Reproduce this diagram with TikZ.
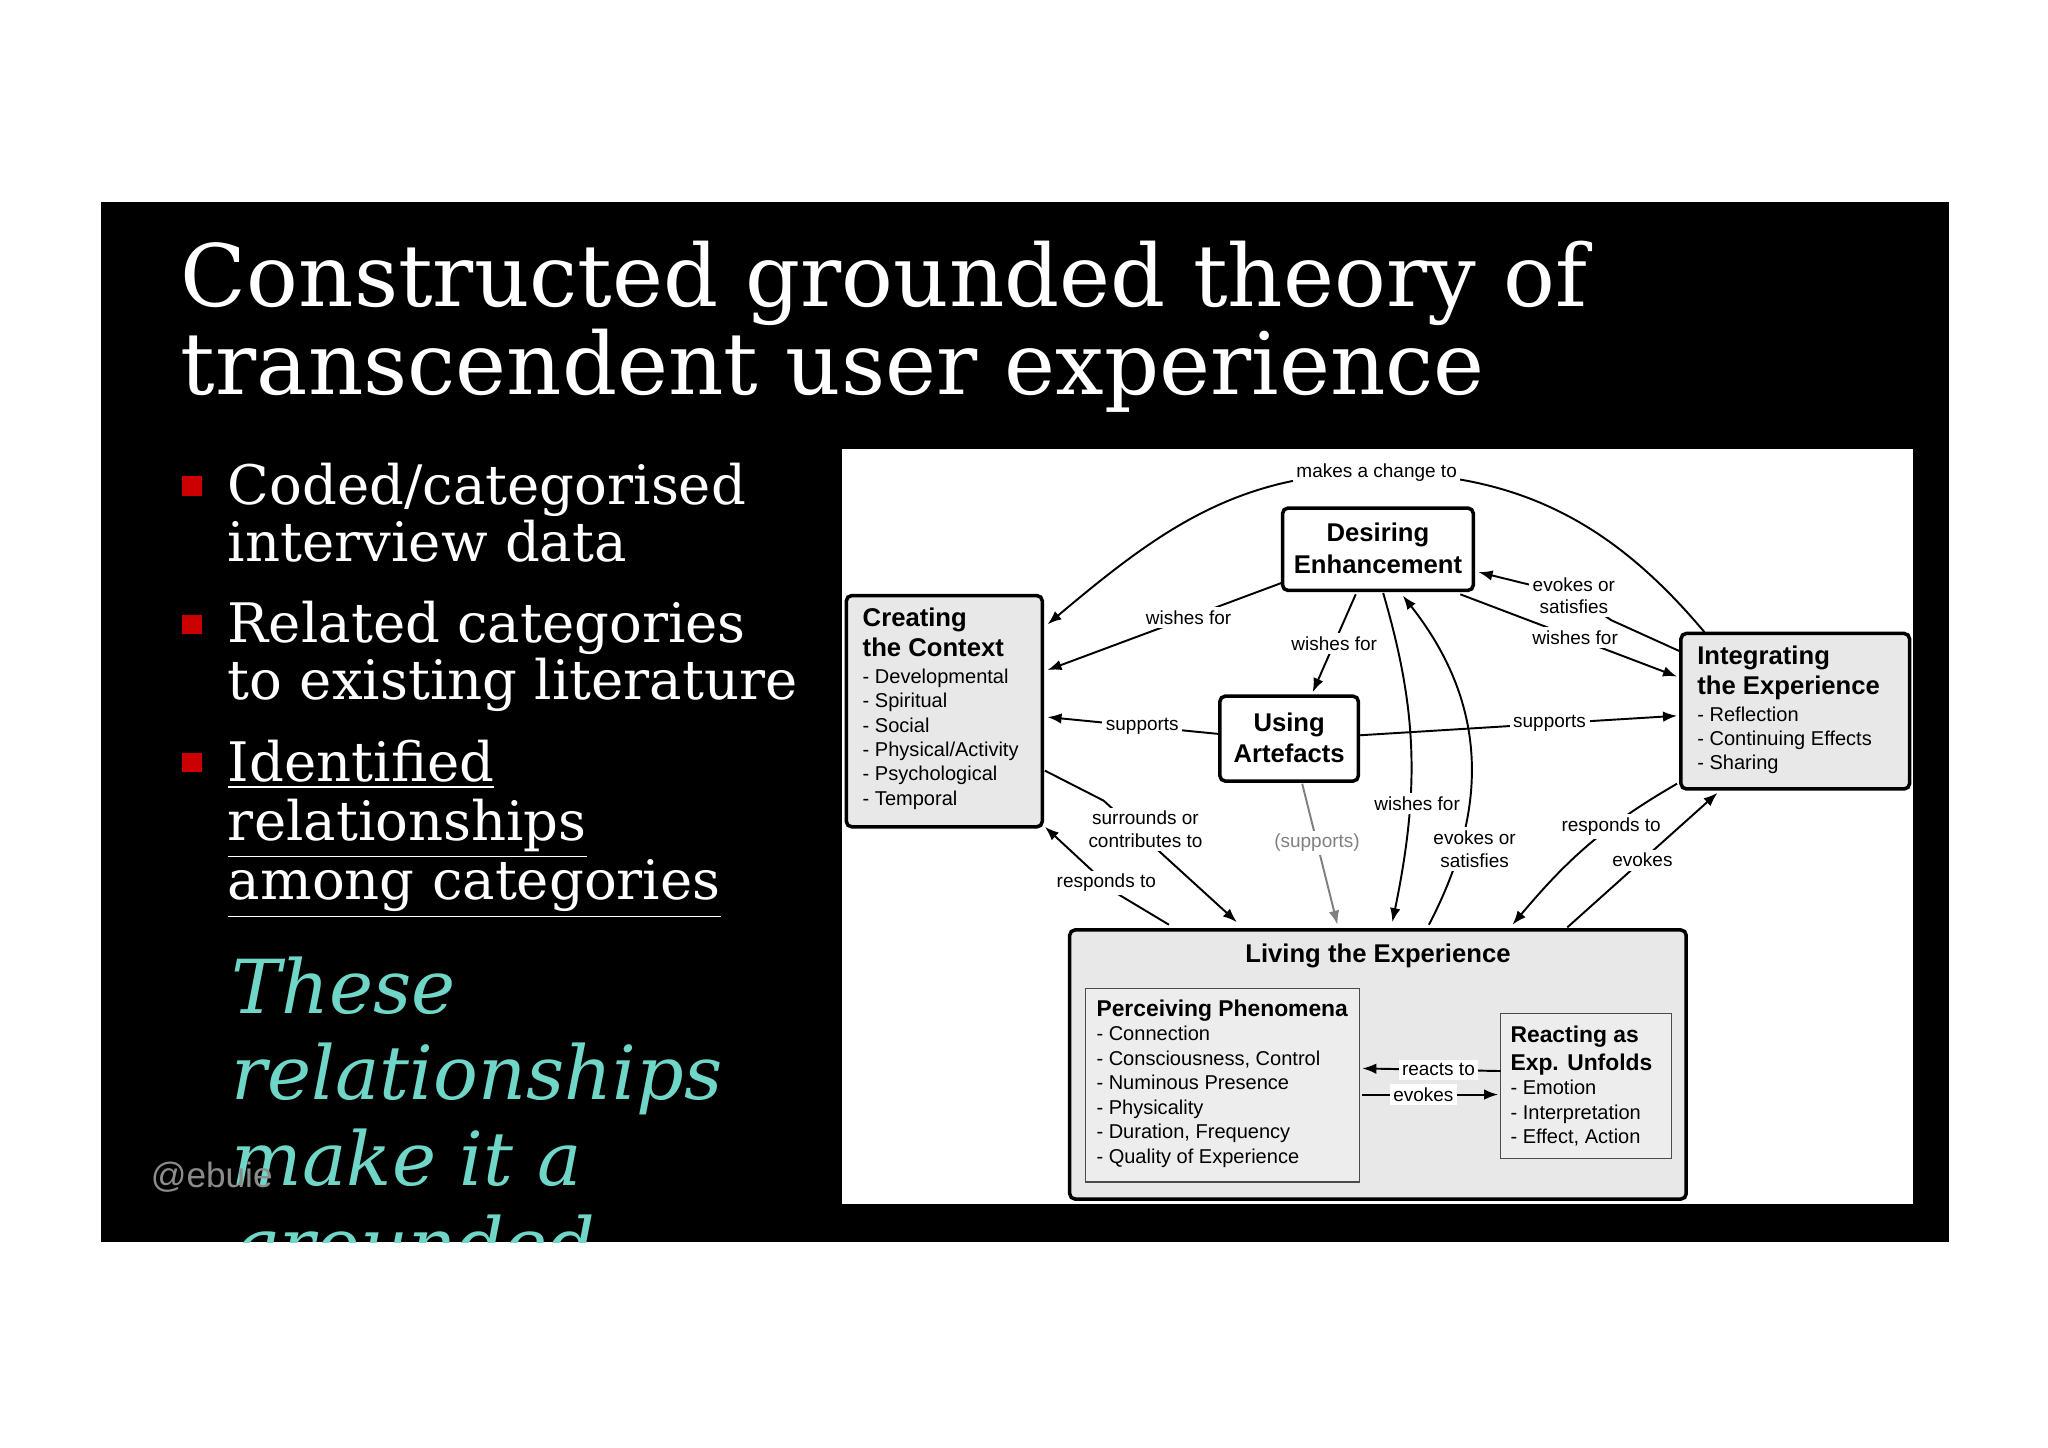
\documentclass[tikz,border=0pt]{standalone}
\usepackage{fontspec}
\setmainfont{DejaVu Serif}
\newfontfamily\dsans{Liberation Sans}
\usetikzlibrary{arrows.meta}
\newcommand{\hd}[1]{{\bfseries\fontsize{7.3}{8.6}\selectfont #1}}
\newcommand{\hs}[1]{{\bfseries\fontsize{6.5}{7.6}\selectfont #1}}
\begin{document}
\begin{tikzpicture}[x=0.01306cm,y=-0.01306cm,
  thickbox/.style={draw=black,line width=1pt,rounded corners=1.5pt},
  thinbox/.style={draw=black!70,line width=0.35pt},
  btxt/.style={anchor=north west,inner sep=0pt,align=left,font=\dsans\fontsize{5.7}{6.95}\selectfont},
  lbl/.style={fill=white,inner sep=1pt,align=center,font=\dsans\fontsize{5.4}{6.4}\selectfont},
  glbl/.style={fill=white,inner sep=1pt,font=\dsans\fontsize{5.4}{6.4}\selectfont,text=black!50},
  edge/.style={line width=0.55pt,-{Latex[length=4pt,width=3pt]}},
  bul/.style={fill=red!80!black,minimum size=5.5pt,inner sep=0pt},
  btext/.style={anchor=north west,inner sep=0pt,align=left,text=white,font=\fontsize{15.5}{16.2}\selectfont}]
\useasboundingbox (0,0) rectangle (1568,1108);
\fill[white] (0,0) rectangle (1568,1108);
\fill[black] (77,155) rectangle (1492,951);
% title
\node[anchor=north west,inner sep=0pt,align=left,text=white,font=\fontsize{24.5}{24}\selectfont] (title) at (138,184) {Constructed grounded theory of\\transcendent user experience};
% bullets
\node[bul] (b1) at (147,372) {};
\node[bul] (b2) at (147,478) {};
\node[bul] (b3) at (147,584) {};
\node[btext] (t1) at (174,354) {Coded/categorised\\interview data};
\node[btext] (t2) at (174,460) {Related categories\\to existing literature};
\node[btext,font=\fontsize{15.5}{16.8}\selectfont] (t3) at (174,566) {\underline{Identified}\\\underline{relationships}\\\underline{among categories}};
\begin{scope}
\clip (77,155) rectangle (1492,951);
\node[anchor=north west,inner sep=0pt,align=left,text={rgb,255:red,111;green,214;blue,200},font=\itshape\fontsize{21.2}{24.5}\selectfont] (t4) at (177,732) {These\\relationships\\make it a\\grounded};
\end{scope}
\node[anchor=west,inner sep=0pt,text=black!45,font=\dsans\fontsize{10}{12}\selectfont] (wm) at (115,901) {@ebuie};
% panel
\fill[white] (645,344) rectangle (1465,922);
% boxes
\draw[thickbox,fill=white] (982,389) rectangle (1128,452);
\node[inner sep=0pt,align=center,font=\dsans\bfseries\fontsize{7.3}{9}\selectfont] (des) at (1055,420) {Desiring\\Enhancement};
\draw[thickbox,fill=black!9] (648,456) rectangle (798,633);
\node[btxt] (cre) at (660,465) {\hd{Creating}\\[1.6pt]\hd{the Context}\\[0.6pt]- Developmental\\- Spiritual\\- Social\\- Physical/Activity\\- Psychological\\- Temporal};
\draw[thickbox,fill=white] (934,533) rectangle (1040,598);
\node[inner sep=0pt,align=center,font=\dsans\bfseries\fontsize{7.3}{9}\selectfont] (usi) at (987,565) {Using\\Artefacts};
\draw[thickbox,fill=black!9] (1287,485) rectangle (1462,604);
\node[btxt] (int) at (1299,494) {\hd{Integrating}\\[1.6pt]\hd{the Experience}\\[0.6pt]- Reflection\\- Continuing Effects\\- Sharing};
\draw[thickbox,fill=black!9] (819,712) rectangle (1291,918);
\node[inner sep=0pt,font=\dsans\bfseries\fontsize{7.3}{9}\selectfont] (liv) at (1055,732) {Living the Experience};
\draw[thinbox,fill=black!7] (831,757) rectangle (1041,905);
\node[btxt] (per) at (839,765) {\hs{Perceiving Phenomena}\\- Connection\\- Consciousness, Control\\- Numinous Presence\\- Physicality\\- Duration, Frequency\\- Quality of Experience};
\draw[thinbox,fill=black!7] (1149,776) rectangle (1280,887);
\node[btxt] (rea) at (1156,785) {\hs{Reacting as}\\[1pt]\hs{Exp. Unfolds}\\- Emotion\\- Interpretation\\- Effect, Action};
% edges
\coordinate (mk) at (1054,362);
\draw[edge] (1305,484) to[out=130,in=0] (mk) to[out=180,in=40] (802,478);
\node[lbl] at (mk) {makes a change to};
\draw[edge] (982,446) -- node[lbl,pos=0.4]{wishes for} (802,513);
\draw[edge] (1038,455) -- node[lbl,pos=0.5]{wishes for} (1005,530);
\draw[edge] (1118,455) -- node[lbl,pos=0.53]{wishes for} (1284,518);
\coordinate (ev1) at (1234,475);
\coordinate (ev2) at (1205,456);
\draw[edge] (1287,499) -- (ev1) -- (ev2) -- (1132,438);
\node[lbl] at (ev2) {evokes or\\satisfies};
\draw[edge] (934,562) -- node[lbl,pos=0.45]{supports} (802,549);
\draw[edge] (1040,563) -- node[lbl,pos=0.6]{supports} (1284,548);
\draw[edge,draw=black!50,-{Latex[length=4pt,width=3pt,fill=black!50]}] (997,600) -- node[glbl,pos=0.42]{(supports)} (1024,708);
\draw[edge] (800,590) -- (845,613) -- (947,706);
\node[lbl] (sur) at (877,635) {surrounds or\\contributes to};
\draw[edge] (895,708) -- (855,684) -- (800,633);
\node[lbl] (rsp) at (847,676) {responds to};
\draw[edge] (1059,454) .. controls (1084,540) and (1088,600) .. (1066,706);
\node[lbl] (wf) at (1085,615) {wishes for};
\draw[edge] (1094,708) .. controls (1140,620) and (1140,540) .. (1074,456);
\node[lbl] (eos) at (1129,650) {evokes or\\satisfies};
\draw[edge] (1284,600) to[out=-150,in=50] node[lbl,pos=0.35]{responds to} (1158,708);
\draw[edge] (1200,710) -- node[lbl,pos=0.5]{evokes} (1315,607);
\draw[edge] (1149,820) -- node[lbl,pos=0.45]{reacts to} (1043,818);
\draw[edge] (1043,838) -- node[lbl,pos=0.45]{evokes} (1147,838);
\end{tikzpicture}
\end{document}
